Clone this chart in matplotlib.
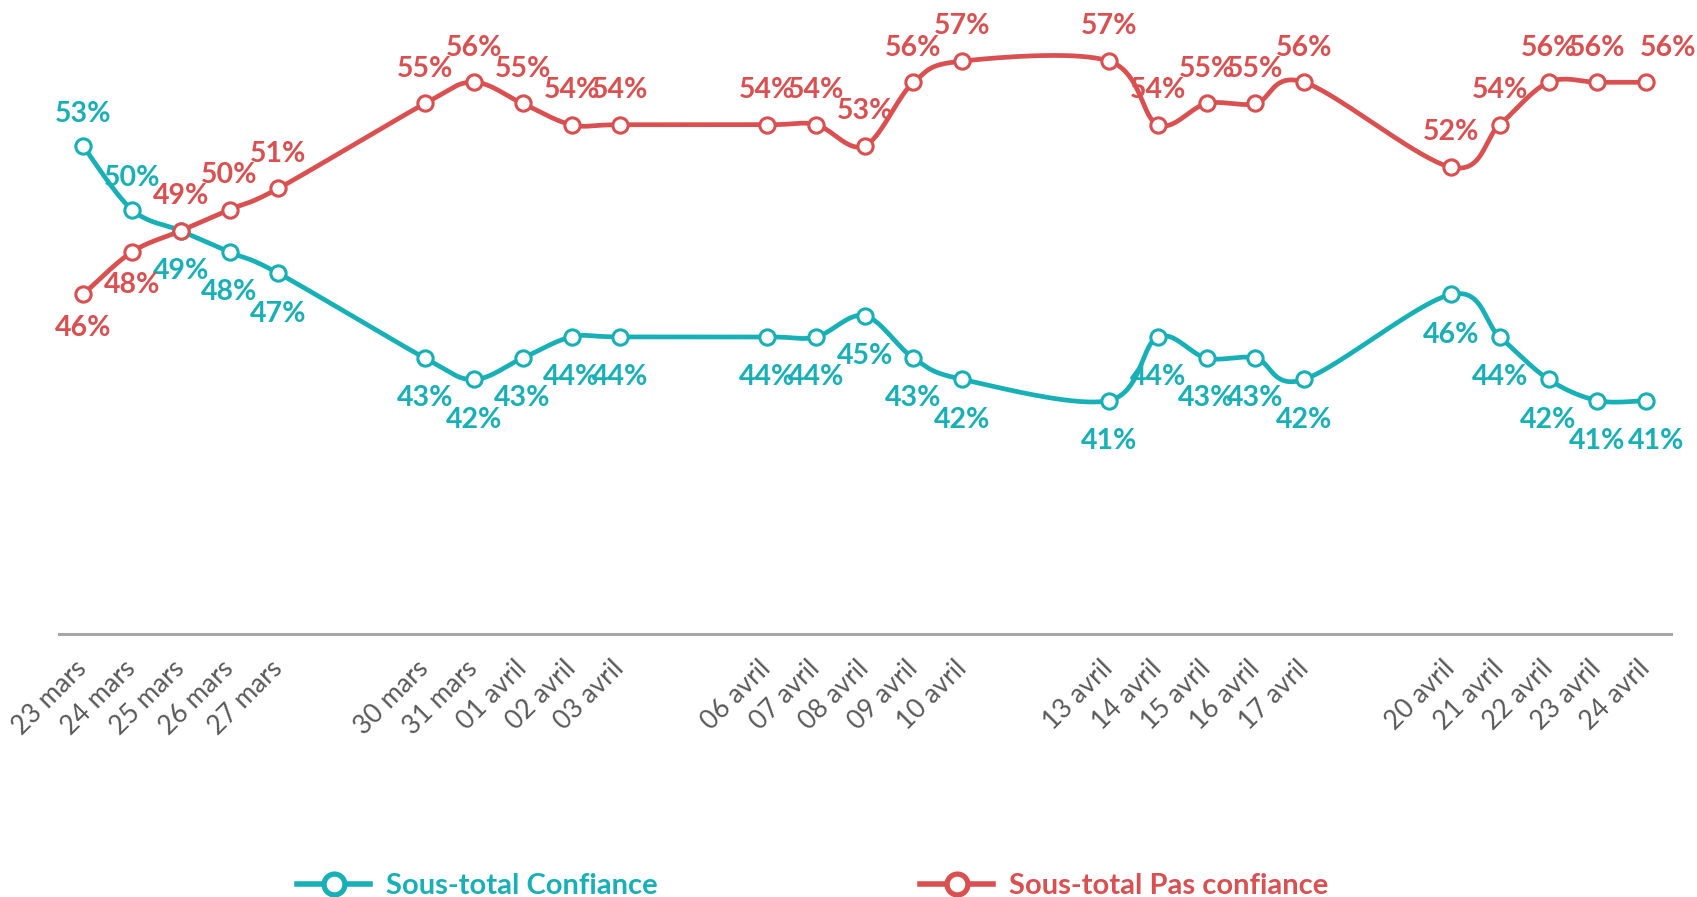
import numpy as np
import matplotlib.pyplot as plt
from matplotlib.lines import Line2D

# dates of the polls (2020) and their tick labels
dates = ['2020-03-23', '2020-03-24', '2020-03-25', '2020-03-26', '2020-03-27',
         '2020-03-30', '2020-03-31', '2020-04-01', '2020-04-02', '2020-04-03',
         '2020-04-06', '2020-04-07', '2020-04-08', '2020-04-09', '2020-04-10',
         '2020-04-13', '2020-04-14', '2020-04-15', '2020-04-16', '2020-04-17',
         '2020-04-20', '2020-04-21', '2020-04-22', '2020-04-23', '2020-04-24']
tick_labels = ['23 mars', '24 mars', '25 mars', '26 mars', '27 mars',
               '30 mars', '31 mars', '01 avril', '02 avril', '03 avril',
               '06 avril', '07 avril', '08 avril', '09 avril', '10 avril',
               '13 avril', '14 avril', '15 avril', '16 avril', '17 avril',
               '20 avril', '21 avril', '22 avril', '23 avril', '24 avril']

confiance = [53, 50, 49, 48, 47, 43, 42, 43, 44, 44,
             44, 44, 45, 43, 42, 41, 44, 43, 43, 42,
             46, 44, 42, 41, 41]
pas_confiance = [46, 48, 49, 50, 51, 55, 56, 55, 54, 54,
                 54, 54, 53, 56, 57, 57, 54, 55, 55, 56,
                 52, 54, 56, 56, 56]

TEAL = '#17B0B7'
RED = '#DA4F50'
GREY = '#595959'

plt.rcParams['font.family'] = ['Lato', 'DejaVu Sans']


def smooth(x, y, n=40):
    '''excel-like smoothed line : cubic bezier through the points'''
    pts = np.column_stack([x, y]).astype(float)
    m = len(pts)
    t = np.linspace(0, 1, n)[:, None]
    out = []
    for i in range(m - 1):
        p0 = pts[max(i - 1, 0)]
        p1 = pts[i]
        p2 = pts[i + 1]
        p3 = pts[min(i + 2, m - 1)]
        c1 = p1 + (p2 - p0) / 6
        c2 = p2 - (p3 - p1) / 6
        seg = (1 - t)**3 * p1 + 3 * (1 - t)**2 * t * c1 + 3 * (1 - t) * t**2 * c2 + t**3 * p2
        out.append(seg)
    out = np.vstack(out)
    return out[:, 0], out[:, 1]


days = (np.array(dates, dtype='datetime64[D]') - np.datetime64(dates[0], 'D')).astype(int)

fig = plt.figure(figsize=(16.97, 8.97), dpi=100)
ax = fig.add_axes([0.0345, 0.2932, 0.950, 0.7097])

# values, colour, legend name, label side (+1 above / -1 below), offset above, offset below
series = [(confiance, TEAL, 'Sous-total Confiance', -1, 23, 29),
          (pas_confiance, RED, 'Sous-total Pas confiance', 1, 25, 24)]

for vals, col, name, side, up, down in series:
    sx, sy = smooth(days, vals)
    ax.plot(sx, sy, color=col, lw=3.4, solid_capstyle='round', zorder=2)
    ax.plot(days, vals, ls='none', marker='o', ms=11, mfc='white', mec=col, mew=2.2, zorder=3)
    for i, (d, v) in enumerate(zip(days, vals)):
        s = side
        if i < 2:
            s = -side  # first two labels flipped as in the original
        dy = up if s > 0 else -down
        dx = 0
        if i == len(days) - 1:
            dx = 16 if side > 0 else 7
        ax.annotate(f'{v}%', (d, v), xytext=(dx, dy), textcoords='offset points',
                    ha='center', va='center', fontsize=20.5, fontweight='bold',
                    color=col, annotation_clip=False)

ax.set_xlim(-0.5, days[-1] + 0.5)
ax.set_ylim(30, 60)
ax.set_yticks([])
ax.set_xticks(days)
ax.set_xticklabels(tick_labels, rotation=45, ha='right', va='center',
                   rotation_mode='anchor', fontsize=19, color=GREY)
ax.tick_params(axis='x', length=0, pad=22)
for sp in ['top', 'right', 'left']:
    ax.spines[sp].set_visible(False)
ax.spines['bottom'].set_color('#A8A5A5')
ax.spines['bottom'].set_linewidth(2.2)

handles = [Line2D([], [], color=s[1], lw=4, marker='o', ms=15, mfc='white', mec=s[1], mew=3.8)
           for s in series]
leg = fig.legend(handles, [s[2] for s in series], loc='center', bbox_to_anchor=(0.479, 0.012),
                 ncol=2, frameon=False, fontsize=21, handlelength=2.5, handletextpad=0.55,
                 columnspacing=9.0, borderpad=0)
for txt, s in zip(leg.get_texts(), series):
    txt.set_color(s[1])
    txt.set_fontweight('bold')

fig.savefig('out.png', dpi=100)
